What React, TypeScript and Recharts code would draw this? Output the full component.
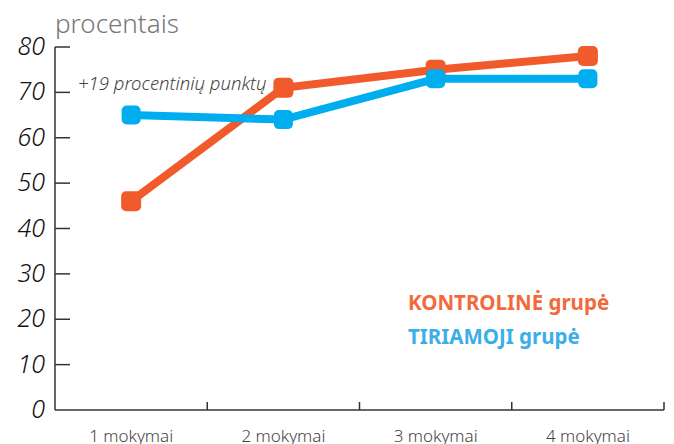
import { LineChart, Line, XAxis, YAxis } from 'recharts';

const categories = ['1 mokymai', '2 mokymai', '3 mokymai', '4 mokymai'];
const kontroline = [46, 71, 75, 78];
const tiriamoji = [65, 64, 73, 73];
const yTicks = [0, 10, 20, 30, 40, 50, 60, 70, 80];
// integer ticks carry labels, half ticks mark band boundaries
const xTicks = [1, 1.5, 2, 2.5, 3, 3.5, 4, 4.5];

const ORANGE = '#f15a2b';
const BLUE = '#00aeef';
const FONT = '"Noto Sans", "Open Sans", sans-serif';

const data = categories.map((c, i) => ({
  x: i + 1,
  name: c,
  kontroline: kontroline[i],
  tiriamoji: tiriamoji[i],
}));

function SquareDot(props: any) {
  const { cx, cy, fill, size } = props;
  if (cx == null || cy == null) return null;
  return (
    <rect
      x={cx - size / 2}
      y={cy - size / 2}
      width={size}
      height={size}
      rx={5}
      fill={fill}
    />
  );
}

function YTick(props: any) {
  const { x, y, payload } = props;
  return (
    <g>
      {payload.value > 0 && (
        <line x1={x} x2={x + 15} y1={y} y2={y} stroke="#333" strokeWidth={1.5} />
      )}
      <text
        x={x - 10}
        y={y}
        dy={8}
        textAnchor="end"
        fontSize={25}
        fontStyle="italic"
        fontWeight={300}
        fontFamily={FONT}
        fill="#111"
      >
        {payload.value}
      </text>
    </g>
  );
}

function XTick(props: any) {
  const { x, y, payload } = props;
  const v = payload.value;
  if (Number.isInteger(v)) {
    return (
      <text
        x={x}
        y={y + 32}
        textAnchor="middle"
        fontSize={17}
        fontFamily={FONT}
        fontWeight={300}
        fill="#444"
      >
        {categories[v - 1]}
      </text>
    );
  }
  return <line x1={x} x2={x} y1={y} y2={y - 8} stroke="#333" strokeWidth={1.5} />;
}

export default function App() {
  return (
    <div style={{ position: 'absolute', left: 0, top: 0, width: 674, height: 444, fontFamily: FONT }}>
      <div style={{ position: 'absolute', left: 55, top: 5, fontSize: 26, fontWeight: 300, color: '#777' }}>
        procentais
      </div>
      <div
        style={{
          position: 'absolute',
          left: 78,
          top: 70,
          fontSize: 18.5,
          fontStyle: 'italic',
          fontWeight: 300,
          color: '#444',
        }}
      >
        +19 procentinių punktų
      </div>
      <div style={{ position: 'absolute', left: 408, top: 285, fontSize: 20.5, fontWeight: 700, lineHeight: '34px' }}>
        <div style={{ color: '#f26a3b' }}>KONTROLINĖ grupė</div>
        <div style={{ color: '#3caee8' }}>TIRIAMOJI grupė</div>
      </div>
      <LineChart width={674} height={444} data={data} margin={{ top: 47, right: 10, bottom: 0, left: 0 }}>
        <XAxis
          dataKey="x"
          type="number"
          domain={[0.5, 4.5]}
          ticks={xTicks}
          interval={0}
          tickLine={false}
          tickSize={0}
          tickMargin={0}
          tick={<XTick />}
          height={34}
          axisLine={{ stroke: '#333', strokeWidth: 1.5 }}
        />
        <YAxis
          type="number"
          domain={[0, 80]}
          ticks={yTicks}
          interval={0}
          width={55}
          tickLine={false}
          tickSize={0}
          tickMargin={0}
          tick={<YTick />}
          axisLine={{ stroke: '#333', strokeWidth: 1.5 }}
        />
        <Line
          dataKey="kontroline"
          stroke={ORANGE}
          strokeWidth={8}
          isAnimationActive={false}
          dot={<SquareDot fill={ORANGE} size={20} />}
          activeDot={false}
        />
        <Line
          dataKey="tiriamoji"
          stroke={BLUE}
          strokeWidth={8}
          isAnimationActive={false}
          dot={<SquareDot fill={BLUE} size={19} />}
          activeDot={false}
        />
      </LineChart>
    </div>
  );
}
